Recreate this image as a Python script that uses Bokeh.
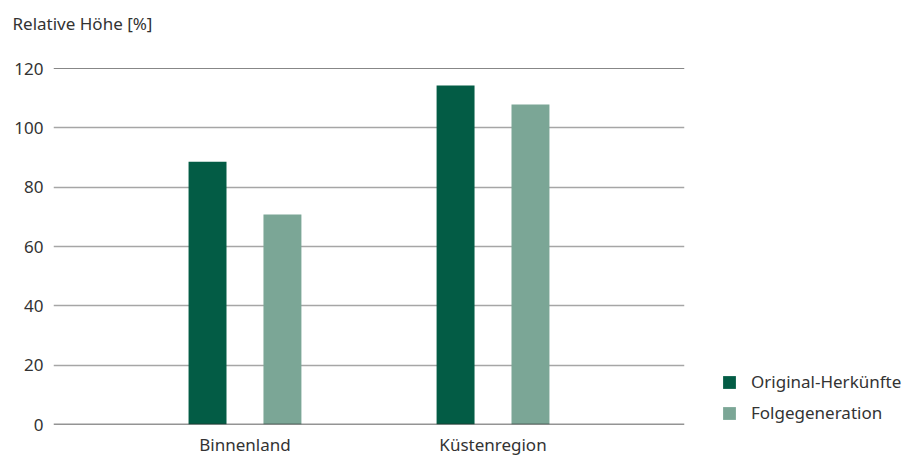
from bokeh.plotting import figure
from bokeh.models import Range1d, Span, Legend, LegendItem, FixedTicker, Title
from bokeh.embed import file_html
from bokeh.resources import INLINE

categories = ["Binnenland", "Küstenregion"]
series_names = ["Original-Herkünfte", "Folgegeneration"]
original = [88.6, 114.3]
folge = [70.8, 107.9]
y_ticks = [0, 20, 40, 60, 80, 100, 120]

colors = ["#035c45", "#7ba696"]
FONT = "Noto Sans"
TXT = "#333333"
FS = "17px"

p = figure(frame_width=631, frame_height=356, output_backend="svg", toolbar_location=None,
           x_range=Range1d(0.228, 2.772), y_range=Range1d(0, 120),
           min_border_left=53, min_border_right=234, min_border_top=68, min_border_bottom=33)
p.outline_line_color = None
p.background_fill_color = "white"
p.border_fill_color = "white"

xs = [i + 1 for i in range(len(categories))]
off = 0.151
w = 0.153
r1 = p.vbar(x=[x - off for x in xs], top=original, bottom=0, width=w, color=colors[0], line_color=None)
r2 = p.vbar(x=[x + off for x in xs], top=folge, bottom=0, width=w, color=colors[1], line_color=None)

p.xaxis.ticker = FixedTicker(ticks=xs)
p.xaxis.major_label_overrides = {x: c for x, c in zip(xs, categories)}
p.xaxis.axis_line_color = None
p.xaxis.major_tick_line_color = None
p.xaxis.minor_tick_line_color = None
p.xaxis.major_label_text_font = FONT
p.xaxis.major_label_text_font_size = FS
p.xaxis.major_label_text_color = TXT
p.xaxis.major_label_standoff = 2

p.yaxis.ticker = FixedTicker(ticks=y_ticks)
p.yaxis.axis_line_color = None
p.yaxis.major_tick_line_color = None
p.yaxis.minor_tick_line_color = None
p.yaxis.major_label_text_font = FONT
p.yaxis.major_label_text_font_size = FS
p.yaxis.major_label_text_color = TXT
p.yaxis.major_label_standoff = 4

p.xgrid.grid_line_color = None
p.ygrid.ticker = FixedTicker(ticks=[20, 40, 60, 80, 100])
p.ygrid.grid_line_color = "#a6a6a6"
p.ygrid.grid_line_width = 1.5

p.add_layout(Span(location=0, dimension="width", line_color="#2b2b2b", line_width=1.5, level="overlay"))
p.add_layout(Span(location=120, dimension="width", line_color="#111111", line_width=1.2, level="overlay"))

title = Title(text="Relative Höhe [%]\n", align="left", offset=-41, text_font=FONT,
              text_font_size=FS, text_font_style="normal", text_color=TXT,
              vertical_align="top", standoff=18)
p.add_layout(title, "above")

legend = Legend(items=[LegendItem(label=series_names[0], renderers=[r1]),
                       LegendItem(label=series_names[1], renderers=[r2])],
                location=(37, 0), orientation="vertical",
                glyph_width=16, glyph_height=16, label_height=16, spacing=8,
                label_standoff=14, padding=0, margin=0,
                border_line_color=None, background_fill_alpha=0,
                label_text_font=FONT, label_text_font_size=FS, label_text_color=TXT)
p.add_layout(legend, "right")

open("out.html", "w").write(file_html(p, INLINE))
